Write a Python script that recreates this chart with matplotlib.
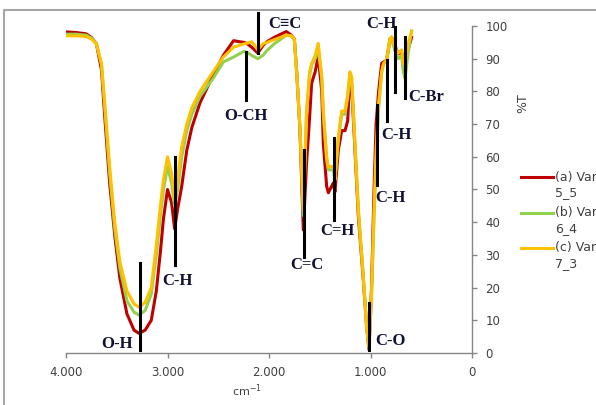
import numpy as np
import matplotlib
matplotlib.use("Agg")
import matplotlib.pyplot as plt
from matplotlib.lines import Line2D
from matplotlib.ticker import FuncFormatter

# wavenumber (cm-1), shared by the three spectra
wn = [4000, 3900, 3800, 3750, 3700, 3650, 3620, 3570, 3520, 3470, 3400, 3330,
      3280, 3220, 3160, 3110, 3070, 3040, 3000, 2960, 2930, 2900, 2860, 2810,
      2760, 2680, 2550, 2450, 2350, 2250, 2220, 2170, 2110, 2060, 2020, 1950,
      1830, 1780, 1750, 1725, 1695, 1662, 1630, 1600, 1580, 1545, 1515, 1480,
      1465, 1432, 1415, 1383, 1366, 1350, 1317, 1284, 1251, 1225, 1202, 1186,
      1153, 1120, 1070, 1038, 1015, 990, 965, 945, 920, 890, 870, 842,
      808, 792, 760, 726, 693, 677, 660, 628, 595]

t_a = [98.2, 98.0, 97.6, 96.5, 94.5, 86.5, 73, 52, 36, 23, 12, 7,
       6, 7, 10, 19, 31, 41, 50, 46, 38, 44, 51, 62,
       69, 76.5, 85, 91, 95.5, 95, 94.7, 93.5, 91.7, 94, 95.2, 96.5,
       98.3, 97.2, 96, 85, 68, 37.6, 58, 72, 82.5, 86, 90.7, 80,
       64, 51, 49, 51, 52, 49.3, 62, 68, 68, 71, 85.5, 82,
       62, 42, 22, 8, 1, 20, 50, 70, 80, 88.6, 89, 89.5,
       96, 96.5, 94, 91.5, 92, 87.6, 88, 93, 96.5]

t_b = [97.5, 97.5, 97.2, 96.3, 94.7, 88, 76, 55, 38, 26, 16, 12.5,
       11.6, 13, 18, 30, 42, 50, 57, 52, 45, 50, 60, 68,
       73, 78.5, 84, 89, 90.5, 92.2, 92, 91, 90, 91, 92.5, 94.5,
       97.2, 97, 95.5, 85, 69, 42, 73, 85, 88, 90, 93, 84,
       73, 59, 56, 56, 56, 53, 65, 73, 73, 78, 85.5, 84,
       64, 44, 23, 8, 2, 17, 42, 58, 75, 86, 88.5, 89,
       95.5, 96, 92.5, 90, 91, 86, 84, 92, 98.5]

t_c = [97, 97, 96.8, 96, 94.5, 88.5, 77, 57, 40, 28, 19, 15,
       14, 15.5, 20, 33, 45, 53, 60, 55, 47, 53, 63, 70,
       75, 80, 86, 90.5, 93.5, 94.5, 94.7, 95.2, 92.7, 94.5, 95, 95.8,
       97.2, 97, 96, 84.5, 69, 43.7, 74, 86, 88.5, 91, 94.7, 84.5,
       74, 60, 57, 57, 57, 53, 66, 74, 74, 79, 86, 84.5,
       64, 43.7, 23, 8, 1.5, 18, 43.7, 62, 76, 86, 88.6, 89.6,
       96.2, 96.7, 93.5, 91.7, 92.7, 88.5, 88, 94.7, 98.3]

series = [t_a, t_b, t_c]
names = [("(a) Var", "5_5"), ("(b) Var", "6_4"), ("(c) Var", "7_3")]
colors = ["#c00000", "#92d050", "#ffc000"]

# band assignments: label, wavenumber, line top, line bottom, text x, text y, align
bands = [
    ("O-H", 3275, 27.5, 0.9, 3340, 2.8, "right"),
    ("C-H", 2926, 60, 27, 3054, 22, "left"),
    ("O-CH", 2227, 92, 77.5, 2232, 72.5, "center"),
    ("C\u2261C", 2105, 104, 91.7, 2010, 100.6, "left"),
    ("C=C", 1655, 62, 29.4, 1625, 26.9, "center"),
    ("C=H", 1360, 65.7, 40.7, 1330, 37.4, "center"),
    ("C-O", 1015, 15.3, 0.9, 949, 3.7, "left"),
    ("C-H", 936, 75.8, 51.4, 956, 47.4, "left"),
    ("C-H", 841, 89.6, 71, 891, 66.7, "left"),
    ("C-H", 759, 99.7, 79.8, 891, 100.5, "center"),
    ("C-Br", 660, 96.6, 78, 627, 78.2, "left"),
]

W, H = 596, 405
fig = plt.figure(figsize=(W / 100, H / 100), dpi=100)
ax = fig.add_axes([66 / W, 1 - 353 / H, 406 / W, 327 / H])

for t, c in zip(series, colors):
    ax.plot(wn, t, color=c, lw=2.2, solid_joinstyle="round")

for lab, x, y1, y2, tx, ty, ha in bands:
    ax.plot([x, x], [y1, y2], color="black", lw=2.2, clip_on=False, zorder=5)
    ax.text(tx, ty, lab, ha=ha, va="center", fontsize=12, fontweight="bold",
            family="Liberation Serif", color="#111133", zorder=6)

ax.set_xlim(4000, 0)
ax.set_ylim(0, 100)
ax.set_xticks([4000, 3000, 2000, 1000, 0])
ax.set_yticks(np.arange(0, 101, 10))
ax.xaxis.set_major_formatter(FuncFormatter(lambda v, p: f"{int(v):,}".replace(",", ".")))

gray = "#868686"
for s in ["left", "top"]:
    ax.spines[s].set_visible(False)
for s in ["right", "bottom"]:
    ax.spines[s].set_color(gray)
    ax.spines[s].set_linewidth(1.0)
ax.yaxis.tick_right()
ax.tick_params(axis="both", direction="out", length=3.5, width=1.0, color=gray,
               labelsize=8.5, labelcolor="#404040", pad=6)
ax.set_facecolor("none")

fig.text(523 / W, 1 - 103 / H, "%T", rotation=90, ha="center", va="center",
         fontsize=9, color="#404040")
fig.text(247 / W, 1 - 391 / H, "cm$^{-1}$", ha="center", va="center",
         fontsize=8, color="#404040")

# legend drawn by hand so each label wraps like the original
for i, ((l1, l2), c) in enumerate(zip(names, colors)):
    yl = 1 - (177 + 35.5 * i) / H
    fig.add_artist(Line2D([521 / W, 553 / W], [yl, yl], color=c, lw=2.2))
    fig.text(555 / W, yl, l1, ha="left", va="center", fontsize=9, color="#404040")
    fig.text(555 / W, yl - 16 / H, l2, ha="left", va="center", fontsize=9, color="#404040")

# chart-area border (cropped on right/bottom)
fig.add_artist(Line2D([4 / W, 4 / W, 1], [0, 1 - 10 / H, 1 - 10 / H], color="#a6a6a6", lw=1.5))

fig.savefig("out.png", dpi=100)
